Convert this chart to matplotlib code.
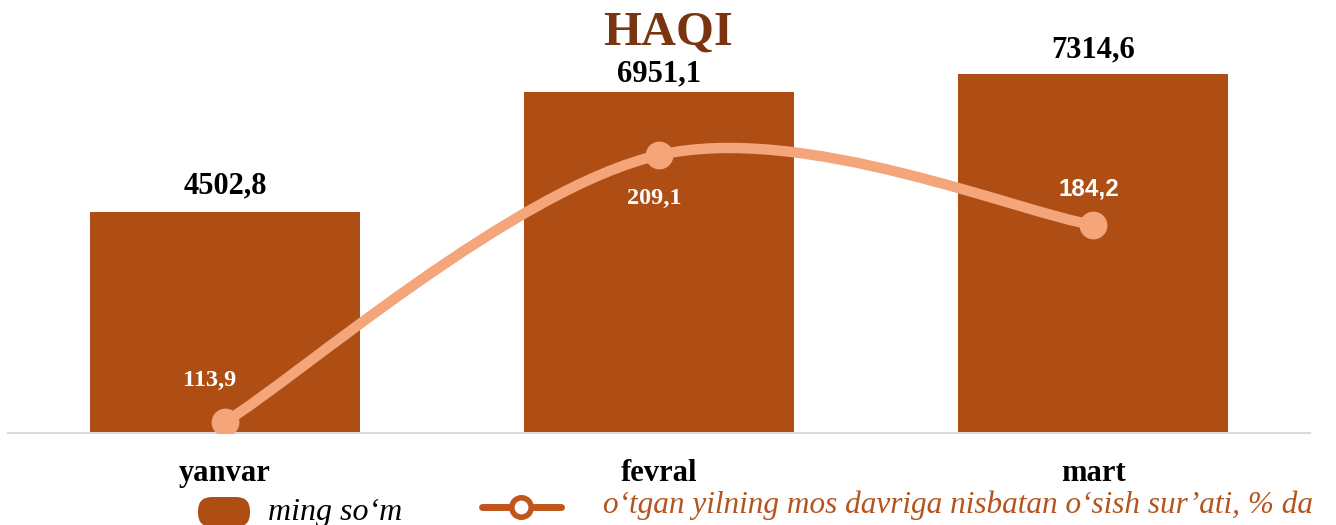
import matplotlib
matplotlib.use('Agg')
import matplotlib.pyplot as plt
from matplotlib.path import Path
from matplotlib.patches import PathPatch, FancyBboxPatch
from matplotlib.lines import Line2D

# ── Data ────────────────────────────────────────────────────────────────────
months = ["yanvar", "fevral", "mart"]
amount = [4502.8, 6951.1, 7314.6]          # ming so'm
growth = [113.9, 209.1, 184.2]             # % to same period last year
amount_labels = ["4502,8", "6951,1", "7314,6"]
growth_labels = ["113,9", "209,1", "184,2"]

# ── Style ───────────────────────────────────────────────────────────────────
BAR = "#AE4E14"
LINE = "#F4A57A"
LEG_LINE = "#C0561B"
TITLE = "#7A3510"
SERIF = "Liberation Serif"

fig = plt.figure(figsize=(13.36, 5.25), dpi=100)
W, H = 1336, 525
ax = fig.add_axes([8 / W, (H - 433) / H, 1302 / W, (433 - 30) / H])

x = list(range(len(months)))
ax.bar(x, amount, width=0.622, color=BAR, zorder=2)
ax.set_xlim(-0.5, 2.5)
ax.set_ylim(0, 8208)
ax.set_yticks([])
ax.set_xticks(x)
ax.set_xticklabels(months, fontfamily=SERIF, fontweight='bold', fontsize=22)
ax.tick_params(axis='x', length=0, pad=19)
for s in ['top', 'right', 'left']:
    ax.spines[s].set_visible(False)
ax.spines['bottom'].set_color('#D9D9D9')
ax.spines['bottom'].set_linewidth(1.5)

offsets = [19, 10, 16]
for xi, v, lab, off in zip(x, amount, amount_labels, offsets):
    ax.annotate(lab, (xi, v), xytext=(0, off), textcoords='offset pixels',
                ha='center', va='baseline', fontfamily=SERIF,
                fontweight='bold', fontsize=22, color='black')

# secondary axis for growth rate, smoothed line
ax2 = ax.twinx()
ax2.set_ylim(110.0, 253.7)
ax2.set_yticks([])
for s in ax2.spines.values():
    s.set_visible(False)

pts = list(zip(x, growth))
verts = [pts[0]]
codes = [Path.MOVETO]
for i in range(len(pts) - 1):
    p0 = pts[i - 1] if i > 0 else pts[i]
    p1, p2 = pts[i], pts[i + 1]
    p3 = pts[i + 2] if i + 2 < len(pts) else pts[i + 1]
    c1 = (p1[0] + (p2[0] - p0[0]) / 6, p1[1] + (p2[1] - p0[1]) / 6)
    c2 = (p2[0] - (p3[0] - p1[0]) / 6, p2[1] - (p3[1] - p1[1]) / 6)
    verts += [c1, c2, p2]
    codes += [Path.CURVE4] * 3
ax2.add_patch(PathPatch(Path(verts, codes), transform=ax2.transData,
                        facecolor='none', edgecolor=LINE, lw=7.5,
                        capstyle='round', zorder=3))
ax2.plot(x, growth, linestyle='none', marker='o', markersize=19,
         color=LINE, zorder=4)

g_off = [(-15, 42), (-5, -43), (-4, 36)]
g_fonts = [SERIF, SERIF, "Liberation Sans"]
for xi, v, lab, off, fam in zip(x, growth, growth_labels, g_off, g_fonts):
    ax2.annotate(lab, (xi, v), xytext=off, textcoords='offset pixels',
                 ha='center', va='center', fontfamily=fam,
                 fontweight='bold', fontsize=17.5, color='white', zorder=5)

# title
fig.text(668 / W, 1 - 45 / H, "HAQI", ha='center', va='baseline',
         fontfamily=SERIF, fontweight='bold', fontsize=35, color=TITLE)

# legend (drawn by hand)
fig.add_artist(FancyBboxPatch((1.98, -0.02), 0.52, 0.30,
                              boxstyle="round,pad=0,rounding_size=0.14",
                              transform=fig.dpi_scale_trans,
                              facecolor=BAR, edgecolor='none'))
fig.text(268 / W, 1 - 520 / H, "ming so\u2018m", ha='left', va='baseline',
         fontfamily=SERIF, fontstyle='italic', fontsize=23, color='black')
ly = 1 - 507 / H
fig.add_artist(Line2D([482 / W, 561 / W], [ly, ly], transform=fig.transFigure,
                      color=LEG_LINE, lw=5, solid_capstyle='round'))
fig.add_artist(Line2D([521 / W], [ly], transform=fig.transFigure,
                      marker='o', markersize=14, markerfacecolor='white',
                      markeredgecolor=LEG_LINE, markeredgewidth=4,
                      linestyle='none'))
fig.text(603 / W, 1 - 513 / H,
         "o\u2018tgan yilning mos davriga nisbatan o\u2018sish sur\u2019ati, % da",
         ha='left', va='baseline', fontfamily=SERIF, fontstyle='italic',
         fontsize=22.5, color='#B5541C')

fig.savefig("out.png", dpi=100)
